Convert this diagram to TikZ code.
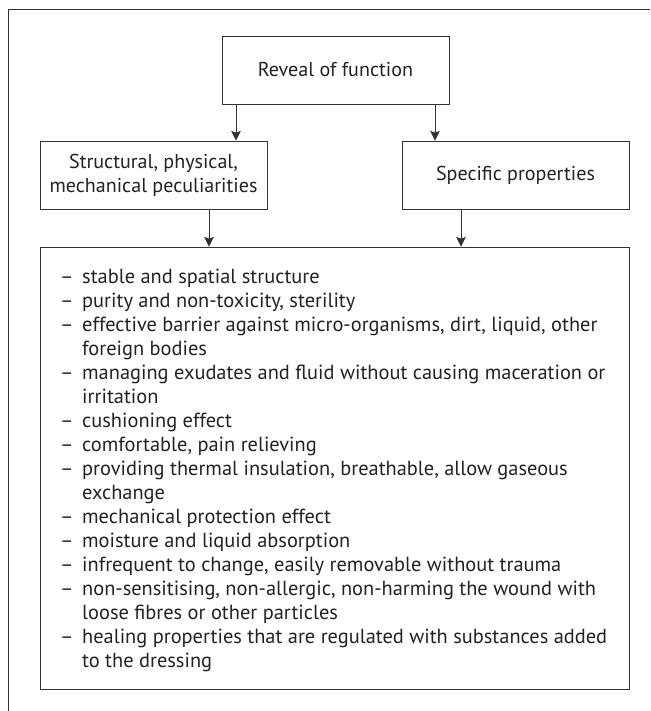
\documentclass[tikz,border=0pt]{standalone}
\usepackage{fontspec}
\setmainfont{PT Sans}
\usetikzlibrary{arrows.meta}
\definecolor{ln}{HTML}{333333}
\definecolor{txt}{HTML}{222222}
\newlength\tmpw
\newcommand\D{\makebox[22pt][l]{–}}
\newcommand\N{\hspace*{22pt}}
\begin{document}
\settowidth\tmpw{\fontsize{10pt}{12pt}\selectfont healing properties that are regulated with substances added}%
\pgfmathsetmacro\bodysize{10*525/\tmpw}%
\settowidth\tmpw{\fontsize{10pt}{12pt}\selectfont Specific properties}%
\pgfmathsetmacro\boxsize{10*159/\tmpw}%
\xdef\boxfont{\noexpand\fontsize{\boxsize pt}{24pt}\noexpand\selectfont}%
\xdef\bodyfont{\noexpand\fontsize{\bodysize pt}{24pt}\noexpand\selectfont}%
\begin{tikzpicture}[x=1pt,y=-1pt,
  box/.style={draw=ln, line width=0.9pt, align=center, text=txt, inner sep=0pt,
    minimum width=227pt, minimum height=68pt, font=\boxfont},
  arr/.style={draw=ln, line width=0.9pt, -{Stealth[length=9.5pt,width=9.5pt,inset=1.5pt]}},
  frame/.style={draw=ln, line width=1pt}]
\useasboundingbox (0,0) rectangle (650,711);
% outer frame (top and left only)
\coordinate (fbl) at (8,711);
\coordinate (ftl) at (8,9.5);
\coordinate (ftr) at (650,9.5);
\draw[frame] (fbl) -- (ftl) -- (ftr);
% boxes
\node[box] (top) at (335.5,70) {Reveal of function};
\node[box] (left) at (153.5,175) {Structural, physical,\\mechanical peculiarities};
\node[box] (right) at (515.5,175) {Specific properties};
\node[box, minimum width=589pt, minimum height=442pt] (big) at (334.5,468) {};
\node[anchor=north west, inner sep=0pt, text=txt, font=\bodyfont] (items) at (60,266.2) {%
\begin{tabular}{@{}l@{}}
\D stable and spatial structure\\
\D purity and non-toxicity, sterility\\
\D effective barrier against micro-organisms, dirt, liquid, other\\
\N foreign bodies\\
\D managing exudates and fluid without causing maceration or\\
\N irritation\\
\D cushioning effect\\
\D comfortable, pain relieving\\
\D providing thermal insulation, breathable, allow gaseous\\
\N exchange\\
\D mechanical protection effect\\
\D moisture and liquid absorption\\
\D infrequent to change, easily removable without trauma\\
\D non-sensitising, non-allergic, non-harming the wound with\\
\N loose fibres or other particles\\
\D healing properties that are regulated with substances added\\
\N to the dressing
\end{tabular}};
% connectors
\coordinate (a1) at (236,0);
\coordinate (a2) at (435,0);
\coordinate (a3) at (209,0);
\coordinate (a4) at (461,0);
\draw[arr] (top.south -| a1) -- (left.north -| a1);
\draw[arr] (top.south -| a2) -- (right.north -| a2);
\draw[arr] (left.south -| a3) -- (big.north -| a3);
\draw[arr] (right.south -| a4) -- (big.north -| a4);
\end{tikzpicture}
\end{document}
